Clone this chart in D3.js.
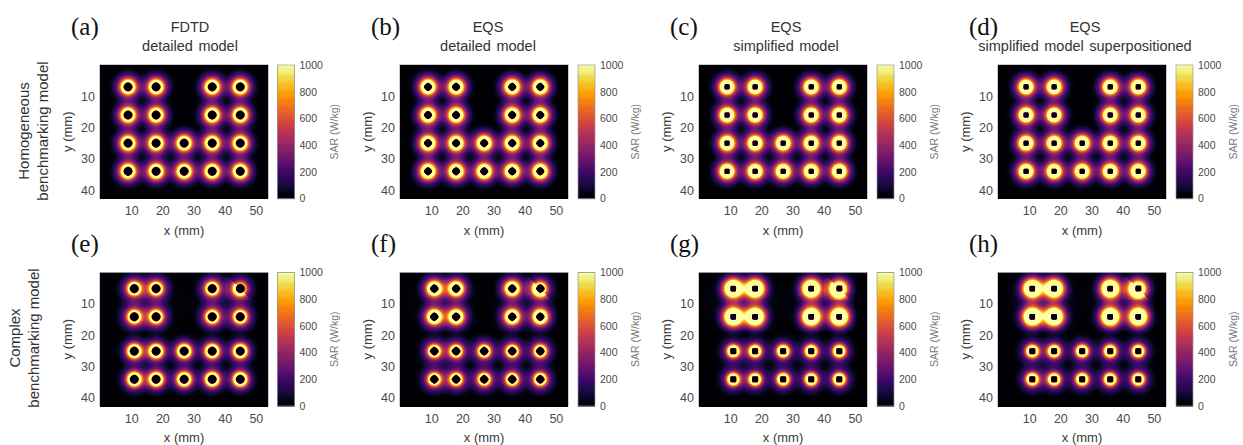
<!DOCTYPE html>
<html><head><meta charset="utf-8">
<style>
html,body{margin:0;padding:0;background:#fff;width:1243px;height:445px;overflow:hidden}
canvas{position:absolute;filter:blur(0.7px)}
svg{position:absolute;left:0;top:0}
text{font-family:"Liberation Sans",Arial,sans-serif}
</style>
<script src="https://cdn.jsdelivr.net/npm/d3@7"></script>
</head><body><div id="root"></div>
<script>
// Labels
const panelLetters = ["(a)","(b)","(c)","(d)","(e)","(f)","(g)","(h)"];
const titleTop = ["FDTD","EQS","EQS","EQS"];
const titleBottom = ["detailed model","detailed model","simplified model","simplified model superpositioned"];
const rowLabelTop = ["Homogeneous","Complex"];
const rowLabelBottom = ["benchmarking model","benchmarking model"];
const xTicks = [10,20,30,40,50];
const yTicks = [10,20,30,40];
const barTicks = [0,200,400,600,800,1000];
// Coil centres (mm)
const homogeneousCoils = [[9,7],[18,7],[36,7],[45,7],[9,16],[18,16],[36,16],[45,16],[9,25],[18,25],[27,25],[36,25],[45,25],[9,34],[18,34],[27,34],[36,34],[45,34]];
const complexCoils = [[11,5],[18,5],[36,5],[45,5],[11,14],[18,14],[36,14],[45,14],[11,25],[18,25],[27,25],[36,25],[45,25],[11,34],[18,34],[27,34],[36,34],[45,34]];
// Per-panel peak SAR (W/kg) of upper and lower coil groups
const peakUpper = [2300,2300,2300,2300,2200,2300,2400,2400];
const peakLower = [2300,2300,2300,2300,2400,2100,2100,2100];
// Spread of the SAR peak round each coil (mm)
const spreadUpper = [1.95,1.95,1.95,1.95,1.85,1.95,2.25,2.25];
const spreadLower = [1.95,1.95,1.95,1.95,1.95,1.8,1.8,1.8];
// Broad plateau round each coil (W/kg), upper and lower groups
const plateauUpper = [340,360,340,340,270,310,360,360];
const plateauLower = [340,360,340,340,240,250,200,200];
// Hole radius round each coil centre (mm) and its outline exponent
const holeRadius = [1.3,1.2,0.75,0.75,1.3,1.25,0.85,0.85];
const holeExponent = [1.8,1.5,4,4,1.8,1.5,4,4];
// Background level of the upper coil pairs in the complex model (W/kg)
const haloLevel = [0,0,0,0,60,45,100,100];

const sarMax = 1000, W = 168, H = 133.5;
const colLeft = [100,400,699,998], rowTop = [65,272.5];
const titleShift = [6,4,3,3];
const xDomain = [0,53.9], yDomain = [0,42.7];
const color = d3.scaleSequential(d3.interpolateInferno).domain([0,sarMax]).clamp(true);
const x = d3.scaleLinear().domain(xDomain).range([0,W]);
const y = d3.scaleLinear().domain(yDomain).range([0,H]);
const barY = d3.scaleLinear().domain([0,sarMax]).range([H,0]);

const root = d3.select("#root");
const svg = root.append("svg").attr("width",1243).attr("height",445);

function sar(mmx,mmy,i){
  const complex = i>=4;
  const coils = complex ? complexCoils : homogeneousCoils;
  let s = 0, hole = 1;
  const p = holeExponent[i], h = holeRadius[i];
  for (const [cx,cy] of coils){
    const upper = complex && cy<20;
    const a = upper ? peakUpper[i] : peakLower[i];
    const w = upper ? spreadUpper[i] : spreadLower[i];
    const b = upper ? plateauUpper[i] : plateauLower[i];
    const dx = mmx-cx, dy = mmy-cy;
    const r2 = dx*dx+dy*dy;
    s += a*Math.exp(-r2/(w*w)) + b*Math.exp(-(r2*r2)/488);
    const m = Math.pow(Math.pow(Math.abs(dx),p)+Math.pow(Math.abs(dy),p),1/p);
    hole = Math.min(hole,Math.min(1,Math.max(0,(m-h)/0.45)));
  }
  if (complex && mmy<18.6){
    for (const gx of [14.5,40.5]){
      const d = Math.hypot(mmx-gx,mmy-9.5);
      if (d<13.5 && mmx<50) s += haloLevel[i]*Math.exp(-d*d/(9*9));
    }
    // diagonal seam through the top-right coil
    if (mmy<8.5 && mmx>40){
      s *= (mmx-mmy>40) ? 0.72 : 1.25;
    }
  }
  return s*hole;
}

const sans = '"Liberation Sans",Arial,sans-serif';
panelLetters.forEach((letter,i)=>{
  const col = i%4, row = i<4?0:1;
  const left = colLeft[col], top = rowTop[row];
  // heat map
  const cv = root.append("canvas").attr("width",W).attr("height",Math.ceil(H))
    .style("left",left+"px").style("top",top+"px").node();
  const ctx = cv.getContext("2d");
  const img = ctx.createImageData(W,Math.ceil(H));
  for (let py=0;py<Math.ceil(H);py++) for (let px=0;px<W;px++){
    const c = d3.rgb(color(sar(x.invert(px+.5),y.invert(py+.5),i)));
    const k = (py*W+px)*4;
    img.data[k]=c.r;img.data[k+1]=c.g;img.data[k+2]=c.b;img.data[k+3]=255;
  }
  ctx.putImageData(img,0,0);

  const g = svg.append("g").attr("transform",`translate(${left},${top})`);
  g.append("rect").attr("width",W).attr("height",H).attr("fill","none").attr("stroke","#8a8a8a").attr("stroke-width",.9);
  const xa = g.append("g").attr("transform",`translate(0,${H})`).call(d3.axisBottom(x).tickValues(xTicks).tickSizeInner(-2).tickSizeOuter(0).tickPadding(8));
  const ya = g.append("g").call(d3.axisLeft(y).tickValues(yTicks).tickSizeInner(-2).tickSizeOuter(0).tickPadding(5));
  [xa,ya].forEach(a=>{
    a.select(".domain").remove();
    a.selectAll("line").attr("stroke","#777");
    a.selectAll("text").attr("fill","#4a4a4a").style("font-size","12.5px").style("font-family",sans);
  });
  g.append("text").attr("x",W/2).attr("y",H+36).attr("text-anchor","middle").attr("fill","#3a3a3a").style("font-size","13px").text("x (mm)");
  g.append("text").attr("transform",`translate(-28,${H/2}) rotate(-90)`).attr("text-anchor","middle").attr("fill","#3a3a3a").style("font-size","13px").text("y (mm)");

  // colour bar
  const bx = left+(col===0?177.5:178);
  const b = svg.append("g").attr("transform",`translate(${bx},${top})`);
  b.append("rect").attr("width",17).attr("height",H).attr("fill",color(0));
  b.selectAll("rect.s").data(d3.range(0,sarMax,4)).join("rect").attr("class","s")
    .attr("x",0).attr("width",17).attr("y",d=>barY(d+4)).attr("height",d=>barY(d)-barY(d+4)+.6).attr("fill",d=>color(d+2));
  b.append("rect").attr("width",17).attr("height",H).attr("fill","none").attr("stroke","#999").attr("stroke-width",.7);
  const ba = b.append("g").attr("transform","translate(17,0)").call(d3.axisRight(barY).tickValues(barTicks).tickFormat(d3.format("d")).tickSize(0).tickPadding(5));
  ba.select(".domain").remove();
  ba.selectAll("text").attr("fill","#4a4a4a").style("font-size","10.5px").style("font-family",sans);
  b.append("text").attr("transform",`translate(58,${H/2}) rotate(-90)`).attr("text-anchor","middle").attr("dominant-baseline","middle").attr("fill","#777").style("font-size","10.5px").text("SAR (W/kg)");

  // panel letter
  svg.append("text").attr("x",left-29).attr("y",top-(row?20.5:30)).attr("fill","#111")
    .style("font-family",'"Liberation Serif",serif').style("font-size","25px").text(letter);
  if (row===0){
    g.append("text").attr("x",W/2+titleShift[col]).attr("y",-33).attr("text-anchor","middle").attr("fill","#333").style("font-size","14.5px").text(titleTop[col]);
    g.append("text").attr("x",W/2+titleShift[col]).attr("y",-14).attr("text-anchor","middle").attr("fill","#333").style("font-size","14.5px").style("word-spacing","1.5px").text(titleBottom[col]);
  }
});

// row captions
[0,1].forEach(r=>{
  const cy = r? 338:131, shift = r? -9:0;
  svg.append("text").attr("transform",`translate(${29+shift},${cy}) rotate(-90)`).attr("text-anchor","middle").attr("fill","#333").style("font-size","15px").text(rowLabelTop[r]);
  svg.append("text").attr("transform",`translate(${48+shift},${cy}) rotate(-90)`).attr("text-anchor","middle").attr("fill","#333").style("font-size","15px").text(rowLabelBottom[r]);
});
</script></body></html>
